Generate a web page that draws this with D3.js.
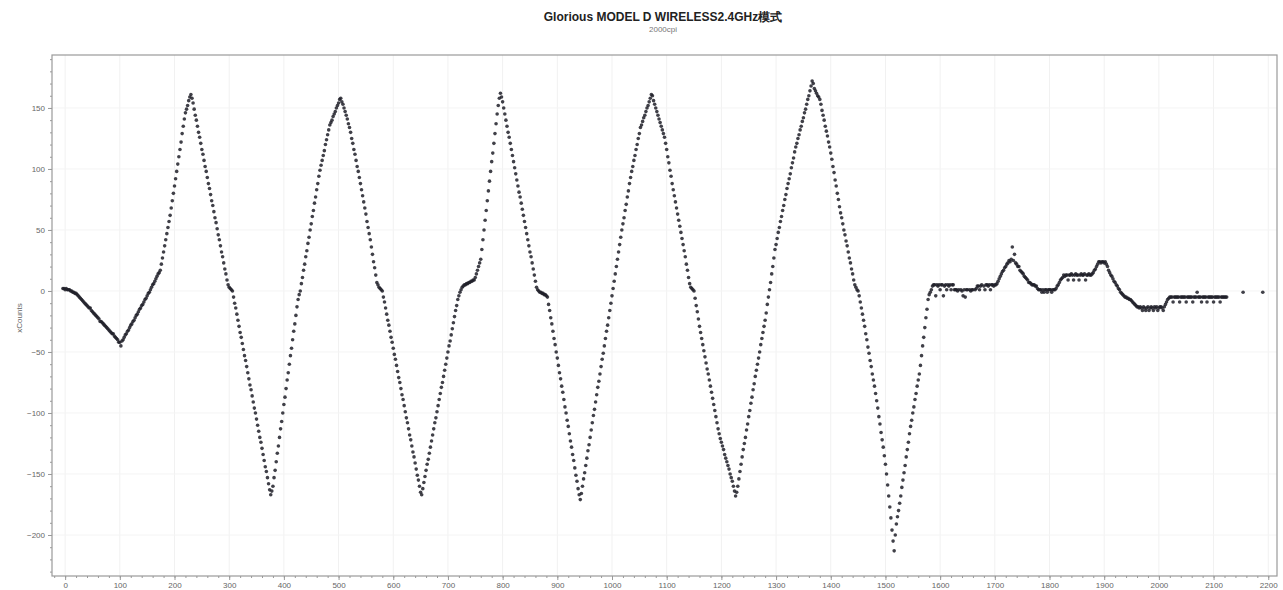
<!DOCTYPE html>
<html><head><meta charset="utf-8">
<script src="https://cdn.jsdelivr.net/npm/d3@7"></script>
<style>
body{margin:0;background:#fff;}
svg{display:block;font-family:"Liberation Sans",Arial,sans-serif;}
</style>
</head><body>
<svg id="chart" width="1283" height="590"></svg>
<script>
const chartTitle = "Glorious MODEL D WIRELESS2.4GHz模式";
const chartSubtitle = "2000cpi";
const yAxisLabel = "xCounts";
const xTicks = [0,100,200,300,400,500,600,700,800,900,1000,1100,1200,1300,1400,1500,1600,1700,1800,1900,2000,2100,2200];
const yTicks = [-200,-150,-100,-50,0,50,100,150];

// sampling interval (ms) of every segment below
const stepMs = 2;
// start time (ms) of each segment
const segmentStarts = [-4,156,308,432,582,762,878,1004,1152,1290,1452,1586,1710,1880];
const seg01 = [2,2,1,2,1,1,1,0,0,-1,-1,-2,-2,-3,-4,-5,-6,-7,-8,-9,-10,-11,-12,-13,-14,-14,-16,-17,-18,-19,-20,-21,-22,-23,-25,-25,-26,-27,-28,-29,-30,-31,-32,-33,-34,-35,-35,-37,-38,-39,-40,-42,-42,-45,-41,-40,-38,-36,-35,-33,-32,-30,-28,-27,-25,-24,-22,-20,-19,-17,-15,-14,-12,-11,-9,-7,-6,-4,-2,-1];
const seg02 = [1,3,5,6,8,10,12,14,15,17,22,27,32,37,42,47,52,57,62,68,74,80,86,92,98,104,110,116,122,129,135,141,146,149,152,156,159,161,158,154,149,144,140,135,130,126,121,116,112,107,102,98,93,88,84,79,74,70,65,60,56,51,46,42,37,32,28,23,18,14,9,5,3,2,1,0];
const seg03 = [-5,-10,-14,-19,-24,-29,-34,-38,-43,-48,-53,-57,-62,-67,-72,-77,-81,-86,-91,-96,-100,-105,-110,-115,-120,-124,-129,-134,-139,-144,-148,-153,-158,-163,-167,-164,-160,-153,-147,-140,-133,-127,-120,-113,-107,-100,-93,-87,-80,-73,-67,-60,-53,-47,-40,-33,-27,-20,-13,-7,-3,0];
const seg04 = [6,11,17,22,28,33,39,44,50,55,61,66,72,77,83,88,94,99,103,107,111,115,120,124,128,132,136,138,140,143,145,147,150,152,154,157,158,155,153,150,147,144,141,137,134,130,125,121,116,112,107,102,98,93,88,83,78,73,68,63,57,52,47,42,36,30,24,19,13,7,5,3,2,1,0];
const seg05 = [-5,-9,-14,-19,-24,-28,-33,-38,-42,-47,-52,-56,-61,-66,-71,-75,-80,-85,-89,-94,-99,-104,-108,-113,-118,-122,-127,-132,-136,-141,-146,-151,-155,-160,-165,-167,-162,-157,-152,-147,-142,-138,-133,-128,-123,-118,-113,-108,-104,-99,-94,-89,-84,-79,-75,-70,-65,-60,-55,-50,-45,-41,-36,-31,-26,-21,-16,-12,-7,-4,-1,1,3,4,5,5,6,6,7,7,8,8,9,9,11,14,17,20,23,26];
const seg06 = [34,42,50,58,66,74,82,90,98,106,113,121,129,137,145,152,158,162,159,155,150,145,140,135,130,126,121,116,111,106,101,96,91,86,81,77,72,67,62,57,52,47,42,37,32,28,23,18,13,8,3,1,0,-1,-1,-2,-2,-3];
const seg07 = [-3,-4,-5,-11,-16,-22,-27,-33,-39,-44,-50,-55,-61,-67,-72,-78,-83,-89,-95,-100,-106,-111,-117,-123,-128,-134,-139,-145,-151,-156,-162,-167,-171,-166,-160,-154,-149,-143,-137,-131,-126,-120,-114,-108,-102,-97,-91,-85,-79,-74,-68,-62,-56,-51,-45,-39,-33,-28,-22,-16,-10,-4,2];
const seg08 = [8,14,20,26,32,38,44,50,55,60,66,71,77,82,88,93,98,102,107,111,116,120,125,129,134,136,139,142,144,147,150,152,155,158,161,160,156,153,150,147,144,141,138,135,132,129,126,121,116,110,105,99,94,88,83,78,73,68,63,58,53,48,43,38,33,28,22,17,11,6,3,2,1,0];
const seg09 = [-6,-12,-17,-23,-29,-34,-39,-44,-49,-54,-59,-64,-68,-73,-78,-83,-88,-93,-98,-103,-108,-113,-117,-121,-124,-127,-130,-134,-137,-140,-143,-146,-150,-153,-156,-160,-164,-168,-165,-160,-154,-148,-142,-136,-130,-125,-120,-114,-109,-103,-98,-92,-87,-81,-76,-70,-65,-60,-55,-50,-44,-39,-34,-29,-24,-18,-11,-5,1];
const seg10 = [7,14,20,27,34,38,43,48,52,57,61,66,70,75,79,84,88,92,96,101,105,109,114,118,121,125,128,132,135,139,142,146,149,153,157,160,164,168,172,170,166,164,162,160,159,157,153,148,144,140,135,131,127,122,118,113,108,102,97,91,86,80,75,69,64,60,55,50,46,41,37,32,27,23,18,14,9,5,3,1,0];
const seg11 = [-4,-9,-14,-19,-24,-29,-35,-40,-46,-51,-57,-62,-68,-73,-78,-84,-90,-96,-103,-109,-116,-122,-128,-135,-142,-150,-159,-168,-177,-186,-196,-205,-213,-200,-191,-185,-180,-174,-168,-161,-155,-149,-143,-136,-130,-124,-117,-111,-106,-100,-95,-89,-84,-78,-73,-68,-61,-53,-45,-38,-30,-22,-15,-7,-3,-1,1];
const seg12 = [4,5,5,-4,5,4,5,1,5,5,-4,4,5,1,5,4,5,1,5,5,1,1,1,0,1,null,1,0,-4,1,-5,1,1,null,1,0,1,1,null,1,2,4,4,1,4,5,null,4,1,5,5,4,5,1,5,5,4,5,5,6,8,10];
const seg13 = [12,14,16,17,19,20,22,23,25,24,26,36,25,30,23,22,20,20,17,16,15,14,12,11,10,9,7,7,6,5,5,5,4,4,2,1,1,1,-1,1,-1,1,1,-1,1,1,1,-1,1,1,1,2,4,5,7,9,10,11,13,12,13,13,9,13,13,14,13,9,13,14,13,13,9,13,14,13,13,14,9,13,13,14,13,13,14];
const seg14 = [15,17,18,20,22,24,24,23,24,24,23,24,22,20,17,15,13,12,10,8,7,5,4,2,1,-1,-2,-3,-4,-5,-5,-6,-6,-7,-7,-8,-9,-10,-11,-12,-13,-13,-14,-13,-14,-16,-13,-14,-16,-14,-13,-16,-14,-13,-14,-16,-13,-14,-13,-16,-14,-13,-13,-14,-16,-13,-11,-9,-7,-6,-5,-5,-5,-9,-5,-5,-5,-5,-5,-9,-5,-5,-5,-5,-5,-9,-5,-5,-5,-5,-5,-9,-5,-5,-5,-1,-5,-5,-5,-9,-5,-5,-5,-5,-9,-5,-5,-5,-5,-5,-9,-5,-5,-5,-5,-5,-9,-5,-5,-5,-5,-5,-5];
// isolated reports at the end
const tailTimes = [2154, 2190];
const tailValues = [-1, -1];

const segments = [seg01,seg02,seg03,seg04,seg05,seg06,seg07,seg08,seg09,seg10,seg11,seg12,seg13,seg14];
const points = [];
segments.forEach((seg, si) => {
  seg.forEach((v, i) => { if (v !== null) points.push({t: segmentStarts[si] + i * stepMs, v}); });
});
tailTimes.forEach((t, i) => points.push({t, v: tailValues[i]}));

const svg = d3.select("#chart");
const L = 52, R = 1277, T = 55, B = 576;
const x = d3.scaleLinear().domain([-24, 2216]).range([L, R]);
const y = d3.scaleLinear().domain([-233.6, 193.4]).range([B, T]);

// grid
const grid = svg.append("g");
grid.selectAll("line.gx").data(xTicks).join("line")
  .attr("x1", d => x(d)).attr("x2", d => x(d)).attr("y1", T).attr("y2", B)
  .attr("stroke", "#f1f1f1").attr("stroke-width", 1);
grid.selectAll("line.gy").data(yTicks).join("line")
  .attr("y1", d => y(d)).attr("y2", d => y(d)).attr("x1", L).attr("x2", R)
  .attr("stroke", "#f4f4f4").attr("stroke-width", 1);

// axes
const xAxis = d3.axisBottom(x).tickValues(xTicks).tickSize(4).tickPadding(2).tickFormat(d3.format("d"));
const xMinor = d3.axisBottom(x).tickValues(d3.range(-20, 2216, 20)).tickSize(2).tickFormat("");
const yAxis = d3.axisLeft(y).tickValues(yTicks).tickSize(4).tickPadding(3).tickFormat(d3.format("d"));
const yMinor = d3.axisLeft(y).tickValues(d3.range(-230, 194, 10)).tickSize(2).tickFormat("");

function styleAxis(g) {
  g.select(".domain").remove();
  g.selectAll("line").attr("stroke", "#999");
  g.selectAll("text").attr("fill", "#666").attr("font-size", 8);
}
svg.append("g").attr("transform", `translate(0,${B})`).call(xMinor).call(styleAxis);
svg.append("g").attr("transform", `translate(0,${B})`).call(xAxis).call(styleAxis);
svg.append("g").attr("transform", `translate(${L},0)`).call(yMinor).call(styleAxis);
svg.append("g").attr("transform", `translate(${L},0)`).call(yAxis).call(styleAxis);

// frame
svg.append("rect").attr("x", L).attr("y", T).attr("width", R - L).attr("height", B - T)
  .attr("fill", "none").attr("stroke", "#9a9a9a").attr("stroke-width", 1.2);

// points
svg.append("g").selectAll("circle").data(points).join("circle")
  .attr("cx", d => x(d.t)).attr("cy", d => y(d.v)).attr("r", 1.8)
  .attr("fill", "#1e1e28").attr("fill-opacity", 0.85);

// titles
svg.append("text").attr("x", 663).attr("y", 21).attr("text-anchor", "middle")
  .attr("font-size", 12).attr("font-weight", "bold").attr("fill", "#222").text(chartTitle);
svg.append("text").attr("x", 663).attr("y", 32).attr("text-anchor", "middle")
  .attr("font-size", 8).attr("fill", "#777").text(chartSubtitle);
svg.append("text").attr("transform", "translate(22,318) rotate(-90)").attr("text-anchor", "middle")
  .attr("font-size", 8).attr("fill", "#666").text(yAxisLabel);
</script>
</body></html>
